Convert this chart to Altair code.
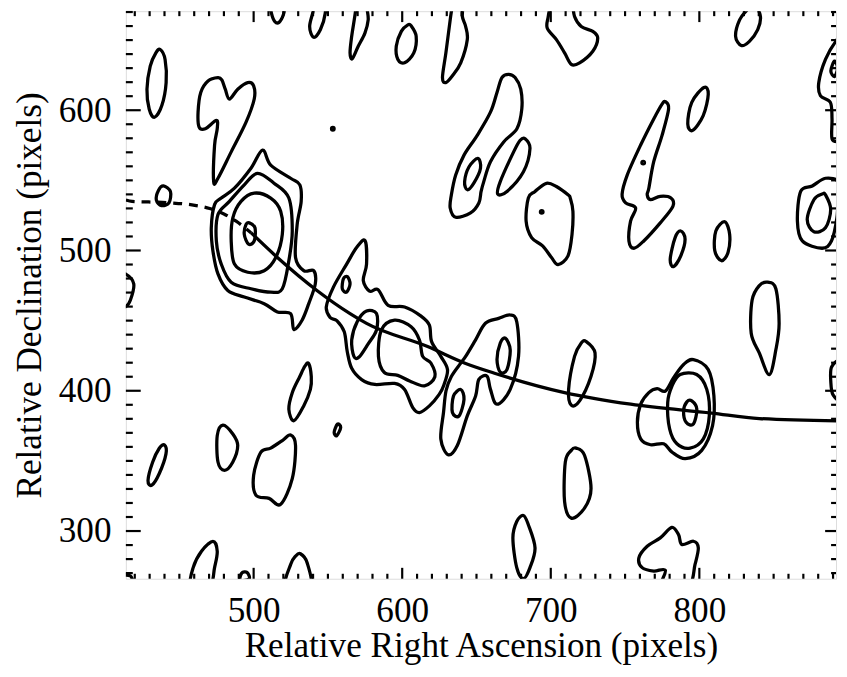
import altair as alt
import pandas as pd

# ---- contour loops (data units: x = RA px, y = Dec px) ----
c_top1 = [(511.1,685),(511.1,676.2),(512,669.1),(514.2,663.3),(517.1,662.6),(520,668),(521.1,675),(521.1,685)]
c_top2 = [(540.4,685),(540.4,672.7),(537.7,659.7),(540.4,652),(544.9,657.4),(548.2,669.1),(548.2,685)]
c_top3 = [(568.9,685),(568.9,673.4),(566,652.7),(564.9,640.9),(566.4,636.7),(570.4,645.6),(574.9,655),(577.1,664.4),(576.4,672.7),(576.4,685)]
c_left_oval = [(437.1,643.3),(440.4,636.2),(441.1,619.7),(438.2,603.3),(433.3,595),(429.7,600.9),(428.2,615),(430.4,631.5),(434.2,640.9)]
c_heart = [(476,623.3),(469.3,620.9),(464.4,612.7),(462.6,598.6),(463.3,588),(467.5,586.8),(474.9,592.7),(475.5,586.8),(473.7,575),(473.1,549.1),(476,551.5),(484.9,570.3),(494.9,591.5),(500.4,608),(500,617.4),(496,619.7),(489.3,615),(483.7,608),(480.9,615),(478.6,621.6)]
c_dot1 = [(552.6,587.6),(554,587.6),(554,586),(552.6,586)]
c_src1_l1 = [(506,571.5),(511.5,560.9),(524.9,551.5),(531.1,546.8),(532,535),(529.3,518.6),(528.2,495),(533.7,485.6),(540.4,485.6),(541.5,476.2),(537.1,462.1),(532.6,450.3),(527.1,443.7),(524.9,455),(516,456.2),(507.1,462.1),(493.7,466.8),(482.6,471.5),(476,483.3),(472.6,499.7),(471.5,516.2),(473.7,532.7),(478.2,537.4),(487.1,544.4),(498.2,558.6)]
c_src1_l2 = [(502.6,555),(513.7,548),(523.7,537.4),(526,513.9),(523.7,492.7),(519.3,472.7),(511.5,470.3),(498.2,472.7),(484.9,477.4),(478.2,490.3),(474.9,506.8),(476,525.6),(483.7,535),(493.7,546.8)]
c_src1_l3 = [(500.4,540.9),(511.5,537.4),(518.2,528),(519.3,511.5),(514.9,495),(507.1,485.6),(496,484.5),(487.1,490.3),(484.9,506.8),(486,523.3),(491.5,535)]
c_src1_l4 = [(497.1,519.7),(500.9,516.2),(500.4,506.8),(496.6,504.5),(493.7,511.5),(494.9,518.6)]
c_small_o = [(439.3,546),(444,542),(443,534),(438,532),(434.5,536),(436,543)]
c_left_edge = [(405,485),(413.7,483.3),(419.3,476.2),(417,464.5),(413.7,459.8),(405,458)]
c_f = [(606,660.2),(609.4,652.7),(607.8,640.9),(601.6,633.8),(597.1,636.2),(596,645.6),(599.4,656.2),(603.8,660.9)]
c_g = [(633.8,685),(633.8,676.2),(632.3,664.4),(629.4,640.9),(627.1,623.3),(629.4,619.7),(633.8,624.5),(639.4,633.8),(643.8,650.3),(642.7,659.7),(640.5,666.8),(641.1,676.2),(641.1,685)]
c_h = [(699.8,685),(699.8,676.2),(698.3,666.8),(697.6,658.6),(703.8,650.3),(709.3,640.9),(713.8,632.7),(719.4,633.8),(728.3,642.1),(731.6,651.5),(728.3,656.2),(720.5,659.7),(716,666.8),(714.9,676.2),(714.9,685)]
c_i = [(671.6,625.6),(667.1,623.3),(663.8,612.7),(659.4,598.6),(650.5,582.1),(641.6,568),(636,553.8),(633.1,539.7),(632.3,530.3),(636,523.7),(646,526.8),(651.6,533.9),(653.1,542.1),(654.9,549.1),(659.4,563.3),(668.3,577.4),(677.2,586.8),(680.5,600.9),(679.8,615),(676,623.3)]
c_i_in = [(650.9,565.6),(652.7,558.6),(648.2,548),(643.8,543.3),(642,549.1),(645,559.7)]
c_j = [(682.7,579.7),(686,572.7),(681.6,556.2),(670.5,542.1),(664.3,540.2),(666,549.1),(675,570.3),(679.4,578.6)]
c_k = [(684.9,537.4),(683.4,520.9),(687.1,509.2),(694.5,503.3),(700.5,495),(704.9,489.9),(711.6,496.2),(714.3,511.5),(714.9,528),(713.1,537.4),(711.6,539.7),(703.8,545.6),(697.1,547.9),(689.4,542.1)]
c_k_dot = [(693.2,528.2),(694.6,528.2),(694.6,526.8),(693.2,526.8)]
c_l = [(837.1,676),(841.1,666.8),(839.3,657.4),(833.7,649.1),(828.2,646.1),(824.4,652.7),(827.1,664.4),(832.6,672)]
c_m = [(803.1,616.2),(806,611.5),(802.6,596.2),(795.5,585.6),(792.2,590.3),(794.9,605.6)]
c_n = [(777.1,606.1),(779.3,600.9),(774.9,582.1),(769.3,563.3),(766,544.4),(764.9,539.7),(767.1,536.2),(773.7,538.6),(780.9,537.4),(782.2,531.5),(773.7,519.7),(762.6,506.8),(756,501.6),(752.6,506.8),(753.7,520.9),(757.1,530.3),(750.4,533.9),(748,540),(751.5,553.9),(760.4,575),(769.3,593.8),(774.9,604.4)]
c_n_dot = [(761.5,563.3),(762.9,563.3),(762.9,561.9),(761.5,561.9)]
c_o = [(896,652),(892.6,650.3),(884.9,636.2),(880.4,619.7),(881.5,610.3),(888.2,605.6),(889.3,593.9),(889.3,579.7),(893.7,577.4),(896,577)]
c_o_in = [(891,635),(893,630),(891,624),(888.5,628)]
c_p1 = [(868.2,542.1),(866,520.9),(869.3,506.8),(882.6,501.6),(888.9,506.8),(892.6,523.3),(893.3,538.6),(893.7,549.1),(884.9,551.5),(876,546)]
c_p2 = [(884.9,539.7),(888.4,529.2),(884.9,516.2),(877.1,513.4),(872.6,522.1),(877.1,536.2),(882.6,540.2)]
c_q1 = [(787.5,513.9),(790.4,508),(787.5,496.2),(782.6,488.5),(780.4,493.9),(783.7,509.2)]
c_q2 = [(817.1,520.5),(820.4,511.5),(819.3,498.6),(814.9,492.7),(810.4,499.8),(811.1,513.9)]
c_r = [(846,477.4),(851.5,472.7),(853.7,448),(851.5,429.2),(847.1,411.5),(840.4,426.8),(834.9,441),(835.5,464.5),(840.4,475)]
c_r_edge = [(889,417),(895,420),(895,395),(890,397),(888.5,406)]
c_s = [(723.8,435.1),(729.8,426.9),(727.1,410.4),(719.4,392.8),(713.8,389.7),(712,401),(716,424.5),(720.5,434)]
c_s2 = [(717.1,359.1),(722.7,354),(727.1,330.4),(722.7,316.3),(713.8,309.2),(709.3,321),(709.8,349.3),(713.8,357.5)]
c_src2_l1 = [(796,422.2),(806,415.1),(809.8,396.3),(808.9,375.1),(801.6,357.5),(790.5,351.6),(781.6,356.3),(776,362.2),(767.1,361.5),(760.5,365.7),(758.3,377.5),(760.5,390.4),(766,398.7),(771.6,401.5),(777.1,399.8),(782.7,409.3),(789.4,418.7)]
c_src2_l2 = [(787.1,411.6),(798.2,411.6),(805,401),(806.7,382.2),(802.7,365.7),(793.8,359.1),(784.9,362.2),(780,372.8),(778.7,391.6),(781.6,403.4)]
c_src2_l3 = [(794.9,392.8),(798.3,386.9),(796,376.3),(791.1,377.5),(789.4,385.7),(791.6,392.1)]
c_bot1 = [(774.9,260),(777.1,272),(769.3,271.5),(761.5,273.9),(759.3,280.9),(764.9,289.2),(773.7,295.1),(781.5,302.6),(786,297.4),(788.2,290.4),(796,292.7),(799.3,288),(797.1,276.2),(792.6,260)]
c_bot2 = [(681.6,311.1),(684.9,304.5),(689.4,288),(686,273.9),(681.6,266),(677.1,273.9),(674.5,295.1),(677.1,306.8)]
c_u1 = [(537,419.5),(538.8,410),(538.2,401),(533.7,389.2),(527.1,378.6),(523.7,386.8),(526,398.6),(531,410),(534.5,417.5)]
c_u_dot = [(556.4,376.2),(558.6,373.9),(556,368),(554.2,370.4)]
c_ll1 = [(440,361.4),(441,355),(436.5,341),(431.5,332.7),(428.9,336),(432,349),(436.5,359)]
c_ll2 = [(479.3,375.5),(486,369.2),(489.3,360.9),(486,349.2),(480.4,343.3),(476,349.2),(475.5,368)]
c_ll3 = [(524.9,368.5),(528.2,361),(526,337.4),(518.2,319.1),(510.4,323.3),(501.5,325.6),(500,339.8),(504.9,356.2),(511.5,359.1),(519.3,364.5)]
c_lb1 = [(472.6,292.7),(475.5,285.6),(473.7,273.9),(470.4,260),(457.7,260),(459.3,273.9),(464.9,285.6)]
c_lb2 = [(531.5,283.8),(536,277.4),(538.2,260),(521.5,260),(524.9,276.2),(528.2,282.1)]
c_lb3 = [(492,270),(495.5,270.5),(497,266),(491,265)]
c_lb4 = [(412,268),(417,268),(418,264),(412,264)]
c_snake = [(575,507),(576,490.3),(573.8,478.6),(578,471),(583.8,472),(590.5,460.9),(601.6,459.7),(612.7,453.2),(618.3,446.8),(619.8,435),(626,424.5),(630.5,415),(628,404),(624.9,397.4),(618.3,389.2),(611.6,384.5),(607.1,388),(601.6,400.9),(594.9,405.2),(581.6,404.5),(572.7,408),(566,416),(563,428),(561,442),(556,450),(551.5,452.2),(548.9,459.7),(553.7,473.9),(562.6,490.3),(569.3,502.1)]
c_snake_t = [(563.1,481.4),(564.9,476.2),(562.6,470.3),(559.7,472.7),(560.4,479.7)]
c_snake_v = [(576,456.9),(582.7,455),(582.7,443.3),(577.1,433.4),(571,424),(567.5,424.5),(566,436.2),(569.7,449.2)]
c_snake_w = [(586,443.3),(594.9,450.3),(606,445.6),(611.6,436.2),(613.8,424.5),(619.3,419.8),(622,410),(615,403.5),(605,407),(597,411),(588,413),(584,424.5)]
c_lambda = [(642.7,424.5),(639.4,419.7),(633,410),(629.5,400),(627.8,384.5),(626,365.6),(630.9,354.4),(637.1,361),(643.8,382.1),(649.4,396.2),(651.6,408.1),(657.1,410.4),(659.4,401),(663.8,390.4),(672.7,401),(678.3,424.5),(677.1,449.2),(672.7,454),(664.9,451.6),(656,448.1),(649.4,436.3)]
c_lambda_in1 = [(669.4,437.5),(672.7,429.2),(670.5,415.1),(666,413.3),(663.8,422.2),(666,434)]
c_lambda_in2 = [(639.4,400.9),(641.6,393.9),(638.3,382.1),(633.8,384.5),(634.5,396.2)]

contours = [c_top1, c_top2, c_top3, c_left_oval, c_heart, c_dot1, c_src1_l1, c_src1_l2,
            c_src1_l3, c_src1_l4, c_small_o, c_left_edge, c_f, c_g, c_h, c_i, c_i_in, c_j,
            c_k, c_k_dot, c_l, c_m, c_n, c_n_dot, c_o, c_o_in, c_p1, c_p2, c_q1, c_q2, c_r,
            c_r_edge, c_s, c_s2, c_src2_l1, c_src2_l2, c_src2_l3, c_bot1, c_bot2, c_u1,
            c_u_dot, c_ll1, c_ll2, c_ll3, c_lb1, c_lb2, c_lb3, c_lb4, c_snake, c_snake_t,
            c_snake_v, c_snake_w, c_lambda, c_lambda_in1, c_lambda_in2]

# ---- fitted track ----
track_dash_x = [414, 418.2, 429.3, 444.9, 460.4, 470.4, 480, 488.2, 498.2]
track_dash_y = [536, 535, 534.6, 533.9, 532.2, 529.9, 526, 520.9, 512.7]
track_solid_x = [498.2, 516, 542.6, 564.9, 576, 617.1, 642.7, 661.6, 709.3, 753.8, 808.2, 840.4, 893]
track_solid_y = [512.7, 495, 471.5, 455, 448, 431.5, 419.5, 412.7, 398.7, 390.4, 384.1, 380.2, 378.6]

# ---- axes ----
x_major = [500, 600, 700, 800]
y_major = [300, 400, 500, 600]
x_minor = [v for v in range(420, 900, 10) if v % 100]
y_minor = [v for v in range(270, 680, 10) if v % 100]
X_DOMAIN = [414, 892]
Y_DOMAIN = [266, 670.6]

W, H = 717, 573
FONT = "Liberation Serif"
FS = 35.5

rows = []
for ci, loop in enumerate(contours):
    for k, (x, y) in enumerate(loop):
        rows.append({"cid": ci, "k": k, "x": x, "y": y})
cdf = pd.DataFrame(rows)

xs = alt.Scale(domain=X_DOMAIN, nice=False, zero=False)
ys = alt.Scale(domain=Y_DOMAIN, nice=False, zero=False)

xaxis = alt.Axis(values=x_major, format="d", ticks=False, tickSize=0, domain=False, grid=False,
                 labelFont=FONT, labelFontSize=FS, labelColor="black", labelPadding=15,
                 title="Relative Right Ascension (pixels)", titleFont=FONT, titleFontSize=FS,
                 titleFontWeight="normal", titleColor="black", titlePadding=0)
yaxis = alt.Axis(values=y_major, format="d", ticks=False, tickSize=0, domain=False, grid=False,
                 labelFont=FONT, labelFontSize=FS, labelColor="black", labelPadding=15,
                 title="Relative Declination (pixels)", titleFont=FONT, titleFontSize=FS,
                 titleFontWeight="normal", titleColor="black", titlePadding=11)

def X(field):
    return alt.X(field, scale=xs, axis=xaxis)

def Y(field):
    return alt.Y(field, scale=ys, axis=yaxis)

contour_layer = alt.Chart(cdf).mark_line(
    interpolate="cardinal-closed", strokeWidth=3.3, color="black", clip=True
).encode(x=X("x:Q"), y=Y("y:Q"), detail="cid:N", order="k:Q")

dash_df = pd.DataFrame({"x": track_dash_x, "y": track_dash_y})
solid_df = pd.DataFrame({"x": track_solid_x, "y": track_solid_y})
dash_layer = alt.Chart(dash_df).mark_line(
    interpolate="monotone", strokeWidth=3.3, color="black", strokeDash=[9, 7], clip=True
).encode(x=X("x:Q"), y=Y("y:Q"))
solid_layer = alt.Chart(solid_df).mark_line(
    interpolate="monotone", strokeWidth=3.3, color="black", clip=True
).encode(x=X("x:Q"), y=Y("y:Q"))

def xticks(vals, length):
    d = pd.DataFrame({"x": vals})
    bot = alt.Chart(d).mark_rule(color="black", strokeWidth=2.2).encode(
        x=X("x:Q"), y=alt.value(H), y2=alt.value(H - length))
    top = alt.Chart(d).mark_rule(color="black", strokeWidth=2.2).encode(
        x=X("x:Q"), y=alt.value(0), y2=alt.value(length))
    return [bot, top]

def yticks(vals, left_len, right_len):
    d = pd.DataFrame({"y": vals})
    left = alt.Chart(d).mark_rule(color="black", strokeWidth=2.2).encode(
        y=Y("y:Q"), x=alt.value(0), x2=alt.value(left_len))
    right = alt.Chart(d).mark_rule(color="black", strokeWidth=2.2).encode(
        y=Y("y:Q"), x=alt.value(W), x2=alt.value(W - right_len))
    return [left, right]

layers = [contour_layer, dash_layer, solid_layer]
layers += xticks(x_major, 11) + xticks(x_minor, 5)
layers += yticks(y_major, 15, 11) + yticks(y_minor, 7, 5)

chart = alt.layer(*layers).properties(
    width=W, height=H,
    autosize=alt.AutoSizeParams(type="none"),
    padding={"left": 119, "top": 0, "right": 3, "bottom": 96},
).configure_view(stroke="black", strokeWidth=3).configure(background="white")

chart.save("out.html", embed_options={"renderer": "svg", "actions": False})
